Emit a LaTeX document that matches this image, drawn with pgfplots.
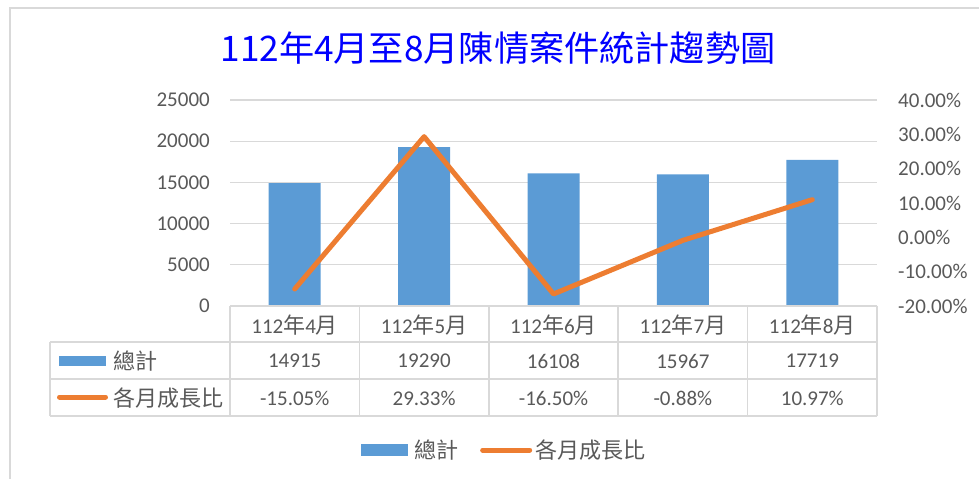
\documentclass[border=0pt]{standalone}
\usepackage{fontspec}
\setmainfont{Carlito}
\newfontfamily\cjk[Scale=1.05]{Noto Sans CJK TC}
\usepackage{pgfplots}
\pgfplotsset{compat=1.18}
\definecolor{gridgray}{HTML}{D9D9D9}
\definecolor{textgray}{HTML}{595959}
\definecolor{barblue}{HTML}{5B9BD5}
\definecolor{lineorange}{HTML}{ED7D31}
\definecolor{titleblue}{HTML}{0000FF}
\newcommand{\C}[1]{{\cjk #1}}
\newcommand{\fs}{\fontsize{21bp}{24bp}\selectfont}
\begin{document}
\begin{tikzpicture}[x=1bp,y=1bp]
\path[use as bounding box] (0,0) rectangle (979,-479);
% chart frame
\draw[gridgray, line width=1.5bp] (10,-479) -- (10,-8) -- (979,-8);
% title
\node[text=titleblue, font=\fontsize{33.5bp}{36bp}\selectfont] at (498,-48) {\C{112年4月至8月陳情案件統計趨勢圖}};
\begin{axis}[
  at={(230bp,-306bp)}, anchor=south west,
  scale only axis, width=647bp, height=206bp,
  xmin=-0.5, xmax=4.5, ymin=0, ymax=25000,
  ytick={0,5000,10000,15000,20000,25000},
  xtick=\empty,
  ymajorgrids, grid style={draw=gridgray, line width=1.2bp},
  axis line style={draw=none},
  major tick length=0pt,
  scaled y ticks=false,
  /pgf/number format/1000 sep={},
  /pgf/number format/assume math mode=true,
  yticklabel style={font=\fs, text=textgray, inner sep=0pt, xshift=-20bp},
  ybar, bar width=52bp,
  legend columns=2,
  legend style={at={(0.424,-0.699)}, anchor=center, draw=none, fill=none,
    font=\fs, text=textgray,
    /tikz/every even column/.append style={column sep=20bp}},
]
\addplot[fill=barblue, draw=none,
  legend image code/.code={\fill[barblue] (0bp,-6bp) rectangle (47bp,6bp); \path (51bp,0bp);}]
  coordinates {(0,14915) (1,19290) (2,16108) (3,15967) (4,17719)};
\addlegendentry{\C{總計}}
\addlegendimage{legend image code/.code={\draw[lineorange, line width=5bp, line cap=round] (2.5bp,0bp) -- (49.5bp,0bp); \path (53bp,0bp);}}
\addlegendentry{\C{各月成長比}}
\end{axis}
\begin{axis}[
  at={(230bp,-306bp)}, anchor=south west,
  scale only axis, width=647bp, height=206bp,
  xmin=-0.5, xmax=4.5, ymin=-20, ymax=40,
  ytick={-20,-10,0,10,20,30,40},
  xtick=\empty,
  axis line style={draw=none},
  major tick length=0pt,
  yticklabel pos=right,
  /pgf/number format/assume math mode=true,
  yticklabel={\pgfmathprintnumber[fixed,fixed zerofill,precision=2]{\tick}\%},
  yticklabel style={font=\fs, text=textgray, inner sep=0pt, xshift=21bp, anchor=west},
]
\addplot[lineorange, line width=5bp, line cap=round, line join=round]
  coordinates {(0,-15.05) (1,29.33) (2,-16.50) (3,-0.88) (4,10.97)};
\end{axis}
% data table
\begin{scope}[gridgray, line width=1.5bp]
\draw (230,-306) -- (877,-306);
\draw (50,-342) -- (877,-342);
\draw (50,-379) -- (877,-379);
\draw (50,-416) -- (877,-416);
\draw (50,-342) -- (50,-416);
\foreach \xx in {230,359.4,488.8,618.2,747.6,877} {\draw (\xx,-306) -- (\xx,-416);}
\end{scope}
\begin{scope}[every node/.style={font=\fs, text=textgray, inner sep=0pt}]
\node at (294.7,-325) {112\C{年}4\C{月}};
\node at (424.1,-325) {112\C{年}5\C{月}};
\node at (553.5,-325) {112\C{年}6\C{月}};
\node at (682.9,-325) {112\C{年}7\C{月}};
\node at (812.3,-325) {112\C{年}8\C{月}};
\node at (294.7,-361) {14915};
\node at (424.1,-361) {19290};
\node at (553.5,-361) {16108};
\node at (682.9,-361) {15967};
\node at (812.3,-361) {17719};
\node at (294.7,-398) {-15.05\%};
\node at (424.1,-398) {29.33\%};
\node at (553.5,-398) {-16.50\%};
\node at (682.9,-398) {-0.88\%};
\node at (812.3,-398) {10.97\%};
\fill[barblue] (59,-356) rectangle (106,-366);
\node[anchor=west] at (113,-361) {\C{總計}};
\draw[lineorange, line width=5bp, line cap=round] (59.5,-397) -- (105.5,-397);
\node[anchor=west] at (113,-398) {\C{各月成長比}};
\end{scope}
\end{tikzpicture}
\end{document}
